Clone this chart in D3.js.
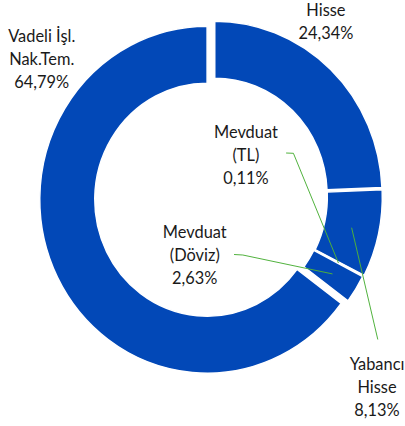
<!DOCTYPE html>
<html>
<head>
<meta charset="utf-8">
<script src="https://cdn.jsdelivr.net/npm/d3@7"></script>
<style>
  body { margin: 0; background: #fff; }
  svg { display: block; }
</style>
</head>
<body>
<div id="dvBody"></div>
<script>
// datos del grafico (orden horario desde las 12)
var categorias = ["Hisse", "Yabancı Hisse", "Mevduat (TL)", "Mevduat (Döviz)", "Vadeli İşl. Nak.Tem."];
var valores = [24.34, 8.13, 0.11, 2.63, 64.79];
var lineasEtiqueta = [["Hisse"], ["Yabancı", "Hisse"], ["Mevduat", "(TL)"], ["Mevduat", "(Döviz)"], ["Vadeli İşl.", "Nak.Tem."]];

var width = 405, height = 426;
// el original esta un poco comprimido en horizontal
var vbWidth = 420;

var svg = d3.select("#dvBody")
  .append("svg")
  .attr("width", width)
  .attr("height", height)
  .attr("viewBox", "0 0 " + vbWidth + " " + height)
  .attr("preserveAspectRatio", "none");

var cx = 221, cy = 196.5;
var rOut = 173.5, rIn = 116.5;

// separacion de cada porcion
var explosion = [2.5, 2, 1, 1, 7];

// posicion de las etiquetas (centro x, primera linea base)
var posEtiqueta = [
  {x: 338, y: 16},
  {x: 391, y: 370},
  {x: 255, y: 138.5},
  {x: 202, y: 238.5},
  {x: 43.3, y: 41.7}
];
// codos de las lineas guia (null = sin linea)
var codos = [
  null,
  [[391.8, 339.5]],
  [[304.3, 153.3], [296.7, 153]],
  [[251.8, 255], [242.7, 254.5]],
  null
];

var pie = d3.pie().sort(null).value(function(d) { return d; });
var arcos = pie(valores);

var arc = d3.arc().innerRadius(rIn).outerRadius(rOut);

var formato = function(v) { return d3.format(".2f")(v).replace(".", ",") + "%"; };

function desplaz(d, i) {
  var a = (d.startAngle + d.endAngle) / 2;
  return [Math.sin(a) * explosion[i], -Math.cos(a) * explosion[i]];
}

var g = svg.append("g")
  .attr("transform", "translate(" + cx + "," + cy + ")");

g.selectAll("path")
  .data(arcos)
  .join("path")
  .attr("d", arc)
  .attr("transform", function(d, i) { var o = desplaz(d, i); return "translate(" + o[0] + "," + o[1] + ")"; })
  .attr("fill", "#0248B7")
  .attr("stroke", "#fff")
  .attr("stroke-width", 1.5);

// lineas guia
var linea = d3.line();
arcos.forEach(function(d, i) {
  if (!codos[i]) return;
  var c = arc.centroid(d);
  var o = desplaz(d, i);
  var pts = [[cx + c[0] + o[0], cy + c[1] + o[1]]].concat(codos[i]);
  svg.append("path")
    .attr("d", linea(pts))
    .attr("fill", "none")
    .attr("stroke", "#4EB03A")
    .attr("stroke-width", 1);
});

// etiquetas
arcos.forEach(function(d, i) {
  var lineas = lineasEtiqueta[i].concat([formato(valores[i])]);
  var t = svg.append("text")
    .attr("x", posEtiqueta[i].x)
    .attr("y", posEtiqueta[i].y)
    .attr("text-anchor", "middle")
    .style("font-family", "Lato, 'Open Sans', sans-serif")
    .style("font-size", "17px")
    .attr("fill", "#1a1a1a");
  lineas.forEach(function(l, k) {
    t.append("tspan")
      .attr("x", posEtiqueta[i].x)
      .attr("dy", k == 0 ? 0 : 23)
      .text(l);
  });
});
</script>
</body>
</html>
